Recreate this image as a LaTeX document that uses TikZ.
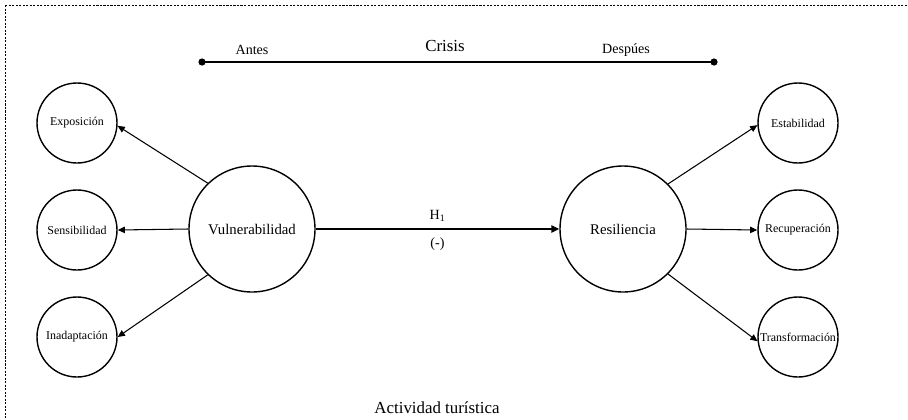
\documentclass[tikz,border=0pt]{standalone}
\usepackage{fontspec}
\setmainfont{Liberation Serif}
\usetikzlibrary{arrows.meta}

\begin{document}
\begin{tikzpicture}[
	big/.style={draw, circle, line width=1pt, minimum size=3.15cm, inner sep=0pt, font=\fontsize{10.5}{12}\selectfont},
	small/.style={draw, circle, line width=1pt, minimum size=2cm, inner sep=0pt, font=\fontsize{8.5}{10}\selectfont},
	link/.style={line width=0.75pt, -{Triangle[length=1.8mm, width=1.6mm]}}
	]
				\useasboundingbox (0,0) rectangle (22.7,-10.475);
				\draw[line width=0.5pt, dash pattern=on 1.5pt off 1pt] (0.125,-0.125) rectangle (23.5,-11);
				\coordinate (t0) at (5.05,-1.55);
				\coordinate (t1) at (17.85,-1.55);
				\draw[line width=0.9pt] (t0) -- (t1);
				\fill (t0) circle (0.09);
				\fill (t1) circle (0.09);
				\node[font=\fontsize{10}{11}\selectfont] (antes) at (6.3,-1.25) {Antes};
				\node[font=\fontsize{12}{13}\selectfont] (crisis) at (11.125,-1.15) {Crisis};
				\node[font=\fontsize{10}{11}\selectfont] (despues) at (15.65,-1.25) {Despúes};
				\node[big] (vul) at (6.3,-5.725) {Vulnerabilidad};
				\node[big] (res) at (15.575,-5.725) {Resiliencia};
				\node[small] (exp) at (1.925,-3.075) {Exposición};
				\node[small] (sen) at (1.925,-5.75) {Sensibilidad};
				\node[small] (ina) at (1.925,-8.425) {Inadaptación};
				\node[small] (est) at (19.95,-3.075) {Estabilidad};
				\node[small] (rec) at (19.95,-5.75) {Recuperación};
				\node[small] (tra) at (19.95,-8.425) {Transformación};
				\draw[link] (vul.134) -- (exp.-4);
				\draw[link] (vul.west) -- (sen.east);
				\draw[link] (vul.-134) -- (ina.east);
				\draw[link] (res.45) -- (est.183);
				\draw[link] (res.east) -- (rec.west);
				\draw[link] (res.-45) -- (tra.186);
				\draw[line width=1.7pt, -{Triangle[length=2mm, width=1.8mm]}] (vul.east) -- (res.west)
					node[midway, above=1pt, font=\fontsize{10}{11}\selectfont] (h1) {H\textsubscript{1}}
					node[midway, below=2pt, font=\fontsize{10}{11}\selectfont] (neg) {(-)};
				\node[font=\fontsize{12}{13}\selectfont] (act) at (10.925,-10.2) {Actividad turística};
\end{tikzpicture}
\end{document}
